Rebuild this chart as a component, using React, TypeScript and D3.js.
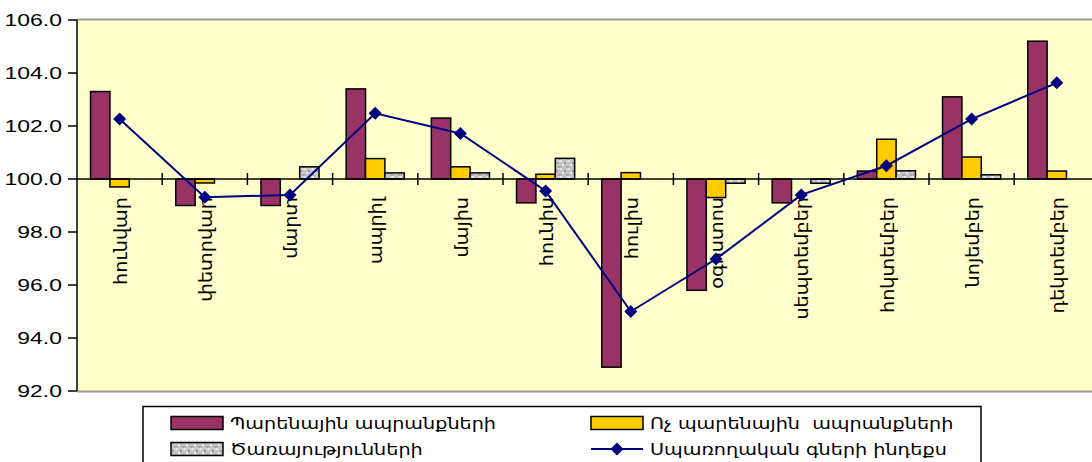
import * as d3 from "d3";

const months = [
  "հունվար",
  "փետրվար",
  "մարտ",
  "ապրիլ",
  "մայիս",
  "հունիս",
  "հուլիս",
  "օգոստոս",
  "սեպտեմբեր",
  "հոկտեմբեր",
  "նոյեմբեր",
  "դեկտեմբեր",
];
const food = [103.3, 99.0, 99.0, 103.4, 102.3, 99.1, 92.9, 95.8, 99.1, 100.3, 103.1, 105.2];
const nonFood = [99.7, 99.85, 100.0, 100.77, 100.46, 100.18, 100.24, 99.3, 100.0, 101.5, 100.83, 100.3];
const services = [100.0, 100.0, 100.46, 100.23, 100.23, 100.78, 100.0, 99.84, 99.84, 100.31, 100.16, 100.0];
const cpi = [102.26, 99.31, 99.4, 102.48, 101.72, 99.55, 95.0, 96.98, 99.4, 100.5, 102.26, 103.63];
const yTicks = [92, 94, 96, 98, 100, 102, 104, 106];

const seriesNames = ["Պարենային ապրանքների", "Ոչ պարենային  ապրանքների", "Ծառայությունների"];
const lineName = "Սպառողական գների ինդեքս";
const colors = ["#993366", "#FFCC00", "url(#svcPattern)"];

const W = 1092;
const H = 462;
const SX = 1.35; // numbers in the source look stretched sideways
const LSX = 1.2; // legend text stretch
const ARM = "'DejaVu Sans', sans-serif";

export default function App() {
  const x = d3.scaleBand<string>().domain(months).range([77, 77 + 12 * 85.2]).padding(0);
  const xs = d3
    .scaleBand<number>()
    .domain([0, 1, 2])
    .range([0, x.bandwidth()])
    .paddingInner(0)
    .paddingOuter(0.7);
  const y = d3.scaleLinear().domain([92, 106]).range([391, 20]);
  const base = y(100);
  const series = [food, nonFood, services];

  const line = d3
    .line<number>()
    .x((_, i) => x(months[i])! + x.bandwidth() / 2)
    .y((d) => y(d));

  const diamond = (cx: number, cy: number, r: number) =>
    `M${cx},${cy - r}L${cx + r},${cy}L${cx},${cy + r}L${cx - r},${cy}Z`;

  const [x0, x1] = x.range();

  return (
    <svg
      width={W}
      height={H}
      style={{ position: "absolute", left: 0, top: 0, background: "#fff" }}
    >
      <defs>
        <pattern id="svcPattern" width="8" height="8" patternUnits="userSpaceOnUse">
          <rect width="8" height="8" fill="#c4c4c4" />
          <rect x="0" y="0" width="2" height="2" fill="#e8e8e8" />
          <rect x="4" y="2" width="2" height="2" fill="#9a9a9a" />
          <rect x="2" y="4" width="2" height="2" fill="#ececec" />
          <rect x="6" y="6" width="2" height="2" fill="#a8a8a8" />
          <rect x="6" y="0" width="2" height="2" fill="#d8d8d8" />
          <rect x="0" y="6" width="2" height="2" fill="#b0b0b0" />
        </pattern>
      </defs>

      {/* plot area */}
      <rect x={x0} y={y(106)} width={x1 - x0} height={y(92) - y(106)} fill="#FFFFCC" />
      <line x1={x0} x2={x1} y1={y(106) - 0.5} y2={y(106) - 0.5} stroke="#9a9a9a" strokeWidth={2} />
      <line x1={x0} x2={x1} y1={y(92) + 0.5} y2={y(92) + 0.5} stroke="#9a9a9a" strokeWidth={2} />

      {/* bars */}
      {series.map((vals, si) =>
        vals.map((v, i) =>
          v === 100 ? null : (
            <rect
              key={`b${si}-${i}`}
              x={x(months[i])! + xs(si)!}
              y={Math.min(y(v), base)}
              width={xs.bandwidth()}
              height={Math.abs(y(v) - base)}
              fill={colors[si]}
              stroke="#000"
              strokeWidth={1.5}
            />
          ),
        ),
      )}

      {/* x axis at 100 */}
      <line x1={x0} x2={x1} y1={base} y2={base} stroke="#000" strokeWidth={1.5} />
      {months.slice(1).map((m) => (
        <line key={m} x1={x(m)} x2={x(m)} y1={base - 6} y2={base + 6} stroke="#000" strokeWidth={1.5} />
      ))}

      {/* y axis */}
      <line x1={x0} x2={x0} y1={y(106)} y2={y(92)} stroke="#000" strokeWidth={1.5} />
      {yTicks.map((t) => (
        <g key={t}>
          <line x1={x0 - 9} x2={x0} y1={y(t)} y2={y(t)} stroke="#000" strokeWidth={1.5} />
          <text
            transform={`translate(62,${y(t)}) scale(${SX},1)`}
            dy="0.36em"
            textAnchor="end"
            fontFamily="'Liberation Sans', Arial, sans-serif"
            fontSize={17}
          >
            {t.toFixed(1)}
          </text>
        </g>
      ))}

      {/* month labels */}
      {months.map((m) => (
        <text
          key={m}
          transform={`translate(${x(m)! + x.bandwidth() / 2 + 1},197) rotate(-90) scale(1.13,1)`}
          dy="0.36em"
          textAnchor="end"
          fontFamily={ARM}
          fontSize={17}
        >
          {m}
        </text>
      ))}

      {/* CPI line */}
      <path d={line(cpi)!} fill="none" stroke="#000080" strokeWidth={2} />
      {cpi.map((v, i) => (
        <path key={`d${i}`} d={diamond(x(months[i])! + x.bandwidth() / 2, y(v), 6.5)} fill="#000080" />
      ))}

      {/* legend */}
      <rect x={143} y={406.5} width={838} height={70} fill="#fff" stroke="#000" strokeWidth={1.5} />
      {[0, 1, 2].map((si) => {
        const lx = si === 1 ? 591 : 171;
        const ly = si === 2 ? 449 : 423;
        return (
          <g key={`l${si}`}>
            <rect x={lx} y={ly - 6.5} width={52} height={13} fill={colors[si]} stroke="#000" strokeWidth={1.5} />
            <text
              transform={`translate(${lx + 59},${ly}) scale(${LSX},1)`}
              dy="0.36em"
              fontFamily={ARM}
              fontSize={16}
              style={{ whiteSpace: "pre" }}
            >
              {seriesNames[si]}
            </text>
          </g>
        );
      })}
      <line x1={591} x2={643} y1={449} y2={449} stroke="#000080" strokeWidth={2} />
      <path d={diamond(617, 449, 6.5)} fill="#000080" />
      <text
        transform={`translate(650,449) scale(${LSX},1)`}
        dy="0.36em"
        fontFamily={ARM}
        fontSize={16}
      >
        {lineName}
      </text>
    </svg>
  );
}
